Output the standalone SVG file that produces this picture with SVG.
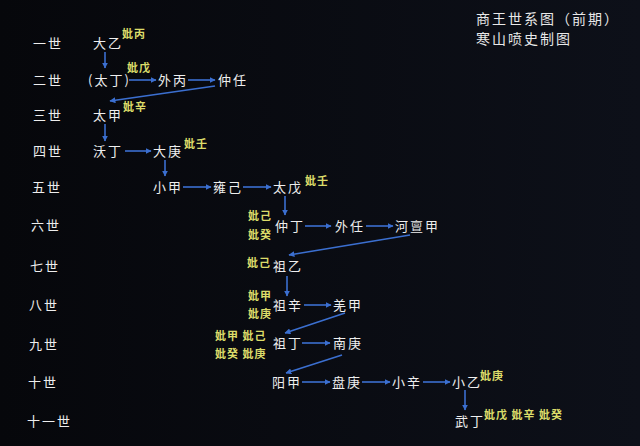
<svg xmlns="http://www.w3.org/2000/svg" width="640" height="446" viewBox="0 0 640 446">
<defs>
<linearGradient id="bg" x1="0" y1="0" x2="1" y2="0">
<stop offset="0" stop-color="#06070b"/>
<stop offset="1" stop-color="#0d1019"/>
</linearGradient>
<marker id="ah" viewBox="0 0 10 10" refX="9" refY="5" markerWidth="6" markerHeight="6" orient="auto" markerUnits="userSpaceOnUse">
<path d="M0,0 L10,5 L0,10 z" fill="#3b6fd0"/>
</marker>
<style>
text{font-family:"Noto Sans CJK SC","Noto Sans CJK TC",sans-serif;}
.w{fill:#eeeeee;font-size:13px;letter-spacing:2px;}
.g{fill:#dcdc6a;font-size:11px;letter-spacing:1px;font-weight:bold;}
.t{fill:#e8e8e8;font-size:14px;letter-spacing:2px;}
.c line{stroke:#3b6fd0;stroke-width:1.6;marker-end:url(#ah);}
</style>
</defs>
<rect width="640" height="446" fill="url(#bg)"/>
<g id="title">
<text class="t" x="476" y="24">商王世系图（前期）</text>
<text class="t" x="476" y="44">寒山喷史制图</text>
</g>
<g id="generations">
<text class="w" x="33" y="48">一世</text>
<text class="w" x="33" y="85">二世</text>
<text class="w" x="33" y="120">三世</text>
<text class="w" x="33" y="156">四世</text>
<text class="w" x="32" y="192">五世</text>
<text class="w" x="31" y="230">六世</text>
<text class="w" x="30" y="271">七世</text>
<text class="w" x="29" y="310">八世</text>
<text class="w" x="29" y="349">九世</text>
<text class="w" x="28" y="387">十世</text>
<text class="w" x="27" y="426">十一世</text>
</g>
<g class="c" id="connectors">
<line x1="105" y1="52" x2="105" y2="68"/>
<line x1="129" y1="80" x2="156" y2="80"/>
<line x1="188" y1="80" x2="215" y2="80"/>
<line x1="215" y1="86" x2="110" y2="101"/>
<line x1="105" y1="124" x2="105" y2="141"/>
<line x1="125" y1="151" x2="151" y2="151"/>
<line x1="165" y1="160" x2="165" y2="176"/>
<line x1="183" y1="187" x2="211" y2="187"/>
<line x1="243" y1="187" x2="271" y2="187"/>
<line x1="285" y1="196" x2="285" y2="215"/>
<line x1="305" y1="226" x2="331" y2="226"/>
<line x1="366" y1="226" x2="393" y2="226"/>
<line x1="410" y1="235" x2="289" y2="255"/>
<line x1="287" y1="276" x2="287" y2="296"/>
<line x1="304" y1="305" x2="331" y2="305"/>
<line x1="345" y1="313" x2="285" y2="333"/>
<line x1="302" y1="343" x2="330" y2="343"/>
<line x1="342" y1="355" x2="286" y2="373"/>
<line x1="302" y1="382" x2="330" y2="382"/>
<line x1="362" y1="382" x2="390" y2="382"/>
<line x1="423" y1="382" x2="450" y2="382"/>
<line x1="465" y1="390" x2="465" y2="410"/>
</g>
<g id="n-dayi"><text class="w" x="93" y="48">大乙</text><text class="g" x="122" y="38">妣丙</text></g>
<g id="n-taiding"><text class="w" x="88" y="85">(太丁)</text><text class="g" x="127" y="72">妣戊</text></g>
<g id="n-waibing"><text class="w" x="158" y="85">外丙</text></g>
<g id="n-zhongren"><text class="w" x="218" y="85">仲任</text></g>
<g id="n-taijia"><text class="w" x="93" y="120">太甲</text><text class="g" x="123" y="111">妣辛</text></g>
<g id="n-woding"><text class="w" x="93" y="156">沃丁</text></g>
<g id="n-dageng"><text class="w" x="153" y="156">大庚</text><text class="g" x="184" y="148">妣壬</text></g>
<g id="n-xiaojia"><text class="w" x="153" y="192">小甲</text></g>
<g id="n-yongji"><text class="w" x="213" y="192">雍己</text></g>
<g id="n-taiwu"><text class="w" x="273" y="192">太戊</text><text class="g" x="305" y="185">妣壬</text></g>
<g id="n-zhongding"><text class="w" x="275" y="231">仲丁</text><text class="g" x="248" y="220">妣己</text><text class="g" x="248" y="239">妣癸</text></g>
<g id="n-wairen"><text class="w" x="335" y="231">外任</text></g>
<g id="n-hedanjia"><text class="w" x="395" y="231">河亶甲</text></g>
<g id="n-zuyi"><text class="w" x="273" y="271">祖乙</text><text class="g" x="247" y="267">妣己</text></g>
<g id="n-zuxin"><text class="w" x="273" y="310">祖辛</text><text class="g" x="248" y="300">妣甲</text><text class="g" x="248" y="318">妣庚</text></g>
<g id="n-qiangjia"><text class="w" x="333" y="310">羌甲</text></g>
<g id="n-zuding"><text class="w" x="273" y="348">祖丁</text><text class="g" x="215" y="340">妣甲 妣己</text><text class="g" x="215" y="358">妣癸 妣庚</text></g>
<g id="n-nangeng"><text class="w" x="333" y="348">南庚</text></g>
<g id="n-yangjia"><text class="w" x="272" y="387">阳甲</text></g>
<g id="n-pangeng"><text class="w" x="332" y="387">盘庚</text></g>
<g id="n-xiaoxin"><text class="w" x="392" y="387">小辛</text></g>
<g id="n-xiaoyi"><text class="w" x="452" y="387">小乙</text><text class="g" x="480" y="380">妣庚</text></g>
<g id="n-wuding"><text class="w" x="455" y="426">武丁</text><text class="g" x="484" y="419">妣戊 妣辛 妣癸</text></g>
</svg>
